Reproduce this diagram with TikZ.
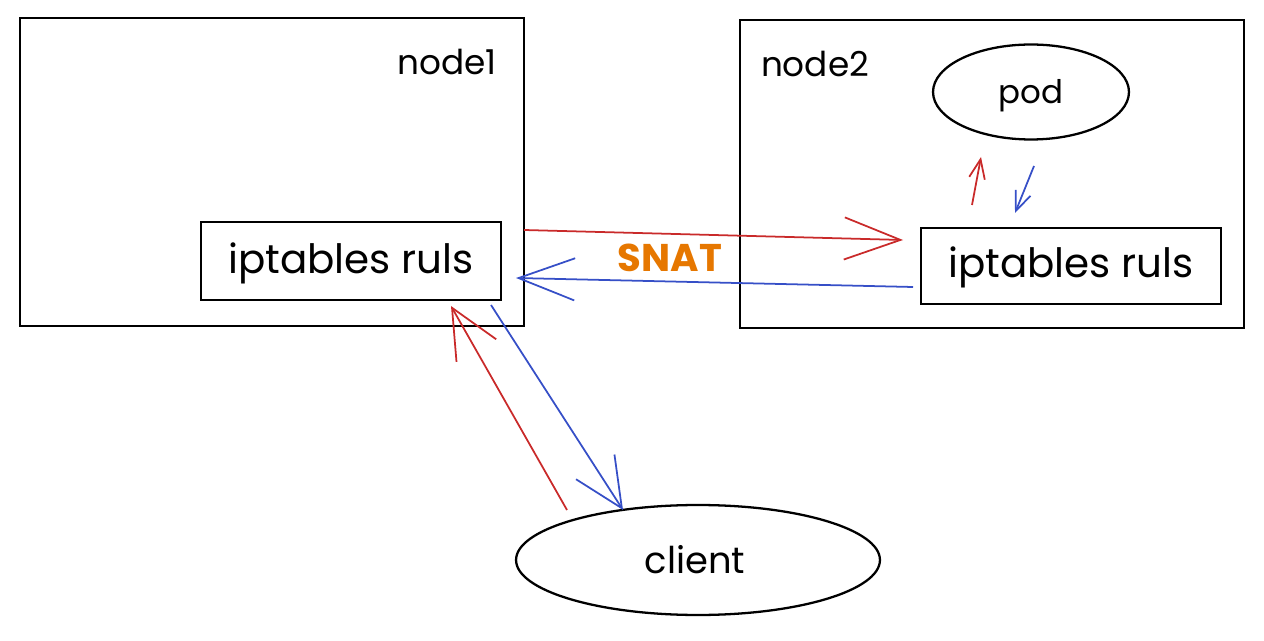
\documentclass[tikz,border=0pt]{standalone}
\usepackage{fontspec}
\setmainfont{Poppins}
\usetikzlibrary{arrows.meta,shapes.geometric}
\definecolor{exred}{HTML}{C92A2A}
\definecolor{exblue}{HTML}{364FC7}
\definecolor{exorange}{HTML}{E67700}
\tikzset{
  frame/.style={draw=black, line width=1.5pt, rectangle, inner sep=0pt},
  oval/.style={draw=black, line width=1.3pt, ellipse, inner sep=0pt},
  lbl/.style={font=\fontsize{19.5}{22}\selectfont, text=black},
  iplbl/.style={font=\fontsize{23}{26}\selectfont, text=black},
  bigarrow/.style={line width=1pt, -{Straight Barb[length=32pt, width=24pt, line width=1pt]}},
  midarrow/.style={line width=1pt, -{Straight Barb[length=28pt, width=26pt, line width=1pt]}},
  smallarrow/.style={line width=1pt, -{Straight Barb[length=11pt, width=9pt, line width=1pt]}},
}
\begin{document}
\begin{tikzpicture}[x=0.02cm, y=-0.02cm]
\useasboundingbox (0,0) rectangle (1264,641);
% containers
\node[frame, minimum width=10.08cm, minimum height=6.16cm] (n1) at (272,172) {};
\node[frame, minimum width=10.08cm, minimum height=6.16cm] (n2) at (992,174) {};
\node[lbl] (n1l) at (447,62) {node1};
\node[lbl] (n2l) at (815,64) {node2};
% inner nodes
\node[frame, minimum width=6.0cm, minimum height=1.56cm] (ip1) at (351,261) {};
\node[iplbl] (ip1t) at (351,263) {iptables ruls};
\node[frame, minimum width=6.0cm, minimum height=1.52cm] (ip2) at (1071,266) {};
\node[iplbl] (ip2t) at (1071,267) {iptables ruls};
\node[oval, minimum width=3.92cm, minimum height=1.9cm] (pod) at (1031,92) {};
\node[lbl, font=\fontsize{18.5}{21}\selectfont] (podt) at (1031,96) {pod};
\node[oval, minimum width=7.28cm, minimum height=2.2cm] (client) at (698,560) {};
\node[lbl, font=\fontsize{21}{24}\selectfont] (clientt) at (695,560) {client};
\node[font=\fontsize{22}{25}\selectfont\bfseries, text=exorange] (snat) at (670,258) {SNAT};
% anchor points
\coordinate (r1s) at (524,230);
\coordinate (r1e) at (903,240);
\coordinate (b1s) at (913,287);
\coordinate (b1e) at (516,278);
\coordinate (r2s) at (972,205);
\coordinate (r2e) at (981,157);
\coordinate (b2s) at (1034,166);
\coordinate (b2e) at (1015,213);
\coordinate (r3s) at (567,510);
\coordinate (r3e) at (451,306);
\coordinate (b3s) at (491,305);
\coordinate (b3e) at (623,510);
% connectors
\draw[bigarrow, exred] (r1s) -- (r1e);
\draw[bigarrow, exblue] (b1s) -- (b1e);
\draw[smallarrow, exred] (r2s) -- (r2e);
\draw[smallarrow, exblue] (b2s) -- (b2e);
\draw[midarrow, exred] (r3s) -- (r3e);
\draw[midarrow, exblue] (b3s) -- (b3e);
\end{tikzpicture}
\end{document}
